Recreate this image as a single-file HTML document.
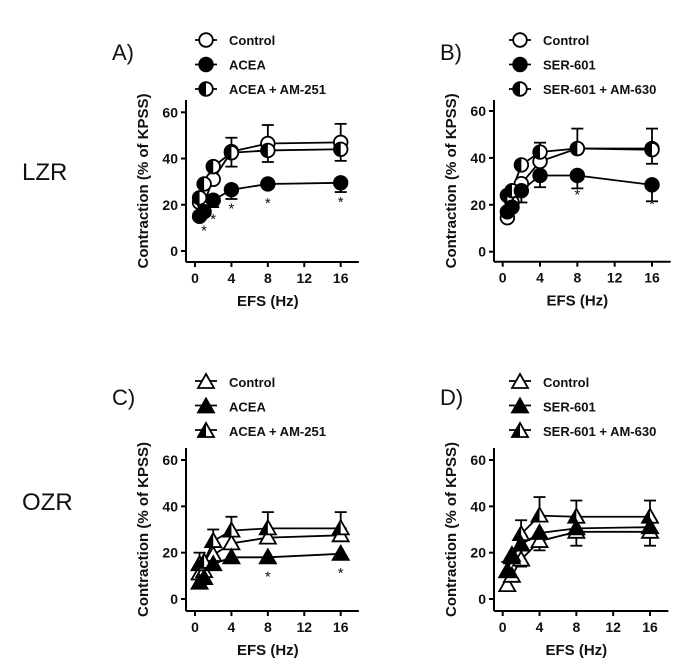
<!DOCTYPE html>
<html><head><meta charset="utf-8"><style>
body{margin:0;background:#fff;}
svg text{font-family:"Liberation Sans",Arial,sans-serif;fill:#111;}
</style></head><body>
<svg id="fig" width="676" height="662" viewBox="0 0 676 662" xmlns="http://www.w3.org/2000/svg">
<defs>
<clipPath id="lh"><rect x="-20" y="-20" width="20" height="40"/></clipPath>
</defs>
<text x="22" y="180" font-size="24">LZR</text>
<text x="22" y="510" font-size="24">OZR</text>
</svg>
<script>
const xVals=[0.5,1,2,4,8,16];
const xTicks=[0,4,8,12,16];
const yTicks=[0,20,40,60];
const aCtrl=[21,21,31,43,46.5,47], aDrug=[15,17,22,26.5,29,29.5], aAnt=[23,29,36.5,42.5,43.5,44];
const bCtrl=[14.5,21,29,38.5,44,44], bDrug=[17,19,26,32.5,32.5,28.5], bAnt=[24,26,37,42.5,44,43.5];
const cCtrl=[11,12,19,24,26.5,27.5], cDrug=[7,9,15,18,18,19.5], cAnt=[15,16,25,29.5,30.5,30.5];
const dCtrl=[6,10,17,25,29,29], dDrug=[12,18,23.5,28.5,30.5,31], dAnt=[12,19,28,36,35.5,35.5];
const aErrCtrl=[0,0,0,6,8,8], aErrDrug=[0,0,-3,-4,0,-4], aErrAnt=[0,0,0,-6,-5,-5];
const bErrCtrl=[0,0,0,0,8.5,8.5], bErrDrug=[0,0,-5,-5,-5.5,-7], bErrAnt=[0,0,0,4,0,-6];
const cErrCtrl=[0,0,0,0,3,3], cErrDrug=[0,0,0,0,0,0], cErrAnt=[5,0,5,6,7,7];
const dErrCtrl=[0,0,-3,-4,-6,-6], dErrDrug=[0,0,0,0,0,0], dErrAnt=[4,0,6,8,7,7];
const aStars=[1,2,4,8,16], bStars=[8,16], cStars=[8,16], dStars=[];
const NS="http://www.w3.org/2000/svg";
const svg=document.getElementById('fig');
function mk(t,a,p){const e=document.createElementNS(NS,t);for(const k in a)e.setAttribute(k,a[k]);(p||svg).appendChild(e);return e;}
function marker(g,shape,fill,cx,cy){
  const m=mk('g',{transform:`translate(${cx},${cy})`},g);
  if(shape==='c'){
    mk('circle',{cx:0,cy:0,r:6.8,fill:fill==='full'?'#000':'#fff',stroke:'#000','stroke-width':1.8},m);
    if(fill==='half')mk('circle',{cx:0,cy:0,r:6.8,fill:'#000','clip-path':'url(#lh)'},m);
  }else{
    const p='M0,-8 L8,6 L-8,6 Z';
    mk('path',{d:p,fill:fill==='full'?'#000':'#fff',stroke:'#000','stroke-width':1.8},m);
    if(fill==='half')mk('path',{d:'M0,-8 L0,6 L-8,6 Z',fill:'#000'},m);
  }
  return m;
}
function panel(o){
  const g=mk('g',{});
  
  
  const sx=v=>o.x0+(o.x16-o.x0)*v/16, sy=v=>o.y0-(o.y0-o.y60)*v/60;
  const t=mk('text',{x:o.tx,y:o.ty,'font-size':22},g);t.textContent=o.title;
  
  mk('line',{x1:o.ax,y1:o.axTop,x2:o.ax,y2:o.axY,stroke:'#000','stroke-width':2},g);
  mk('line',{x1:o.ax,y1:o.axY,x2:sx(18),y2:o.axY,stroke:'#000','stroke-width':2},g);
  yTicks.forEach(v=>{mk('line',{x1:o.ax-5,y1:sy(v),x2:o.ax,y2:sy(v),stroke:'#000','stroke-width':2},g);
    const l=mk('text',{x:o.ax-8,y:sy(v)+5,'font-size':14,'font-weight':'bold','text-anchor':'end'},g);l.textContent=v;
    });
  xTicks.forEach(v=>{mk('line',{x1:sx(v),y1:o.axY,x2:sx(v),y2:o.axY+5,stroke:'#000','stroke-width':2},g);
    const l=mk('text',{x:sx(v),y:o.axY+21,'font-size':14,'font-weight':'bold','text-anchor':'middle'},g);l.textContent=v;
    });
  const xt=mk('text',{x:(o.x0+o.x16)/2,y:o.axY+44,'font-size':15,'font-weight':'bold','text-anchor':'middle'},g);xt.textContent='EFS (Hz)';
  
  const ymid=(o.axTop+o.axY)/2;
  const yt=mk('text',{x:o.ax-38,y:ymid,'font-size':15,'font-weight':'bold','text-anchor':'middle',transform:`rotate(-90 ${o.ax-38} ${ymid})`},g);yt.textContent='Contraction (% of KPSS)';
  
  const series=[[o.ctrl,o.eCtrl,'open'],[o.ant,o.eAnt,'half'],[o.drug,o.eDrug,'full']];
  series.forEach(([d,e,f])=>{
    let pts=xVals.map((x,i)=>sx(x)+','+sy(d[i])).join(' ');
    mk('polyline',{points:pts,fill:'none',stroke:'#000','stroke-width':1.8},g);
    xVals.forEach((x,i)=>{if(e[i]){const y1=sy(d[i]),y2=sy(d[i]+e[i]);
      mk('line',{x1:sx(x),y1:y1,x2:sx(x),y2:y2,stroke:'#000','stroke-width':1.8},g);
      mk('line',{x1:sx(x)-6,y1:y2,x2:sx(x)+6,y2:y2,stroke:'#000','stroke-width':1.8},g);}});
  });
  series.forEach(([d,e,f])=>{xVals.forEach((x,i)=>{const m=marker(g,o.shape,f==='open'?'open':f,sx(x),sy(d[i]));
    });});
  o.stars.forEach(x=>{const i=xVals.indexOf(x);const s=mk('text',{x:sx(x),y:sy(o.drug[i])+24,'font-size':15,'text-anchor':'middle'},g);s.textContent='*';
    });
  o.legend.forEach((lab,k)=>{const y=o.ly+k*24.5;const f=['open','full','half'][k];
    const lg=mk('g',{},g);
    
    const my=o.shape==='t'?y-1:y;
    mk('line',{x1:o.lx-11,y1:my,x2:o.lx+11,y2:my,stroke:'#000','stroke-width':1.8},lg);
    marker(lg,o.shape,f,o.lx,y);
    const tx=mk('text',{x:o.lx+23,y:y+5,'font-size':13,'font-weight':'bold'},lg);tx.textContent=lab;});
}
panel({name:'panel-a',title:'A)',tx:112,ty:60,x0:195,x16:340.7,y0:251,y60:112.3,ax:186,axY:262,axTop:100,ctrl:aCtrl,drug:aDrug,ant:aAnt,eCtrl:aErrCtrl,eDrug:aErrDrug,eAnt:aErrAnt,stars:aStars,shape:'c',lx:206,ly:40,legend:['Control','ACEA','ACEA + AM-251']});
panel({name:'panel-b',title:'B)',tx:440,ty:60,x0:502.7,x16:652,y0:251.7,y60:111,ax:494,axY:261.7,axTop:100,ctrl:bCtrl,drug:bDrug,ant:bAnt,eCtrl:bErrCtrl,eDrug:bErrDrug,eAnt:bErrAnt,stars:bStars,shape:'c',lx:520,ly:40,legend:['Control','SER-601','SER-601 + AM-630']});
panel({name:'panel-c',title:'C)',tx:112,ty:405,x0:195,x16:340.7,y0:599,y60:460,ax:186,axY:611,axTop:448,ctrl:cCtrl,drug:cDrug,ant:cAnt,eCtrl:cErrCtrl,eDrug:cErrDrug,eAnt:cErrAnt,stars:cStars,shape:'t',lx:206,ly:382,legend:['Control','ACEA','ACEA + AM-251']});
panel({name:'panel-d',title:'D)',tx:440,ty:405,x0:502.7,x16:650,y0:599,y60:460,ax:494,axY:611,axTop:448,ctrl:dCtrl,drug:dDrug,ant:dAnt,eCtrl:dErrCtrl,eDrug:dErrDrug,eAnt:dErrAnt,stars:dStars,shape:'t',lx:520,ly:382,legend:['Control','SER-601','SER-601 + AM-630']});
</script>
</body></html>
